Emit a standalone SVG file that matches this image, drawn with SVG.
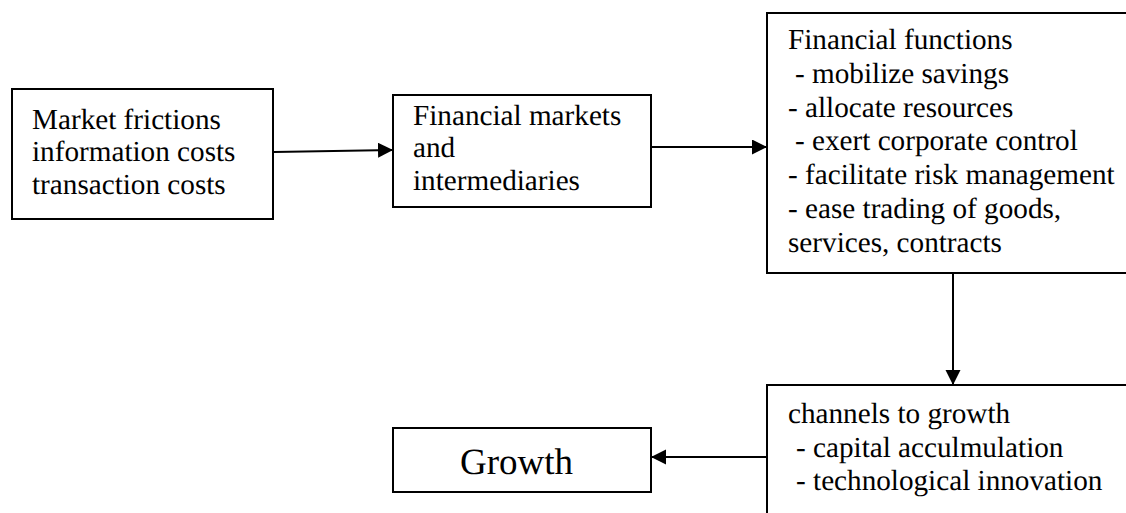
<svg xmlns="http://www.w3.org/2000/svg" width="1126" height="513" viewBox="0 0 1126 513">
<style>
.box{fill:#fff;stroke:#000;stroke-width:2}
.conn{stroke:#000;stroke-width:2;fill:none;marker-end:url(#ah)}
</style>
<defs>
<marker id="ah" markerUnits="userSpaceOnUse" markerWidth="16" markerHeight="16" refX="15" refY="7.5" orient="auto">
<path d="M0,0 L15,7.5 L0,15 z" fill="#000"/>
</marker>
</defs>
<rect width="1126" height="513" fill="#fff"/>
<g font-family="'Liberation Serif', 'Times New Roman', serif" font-size="29.2" fill="#000" text-rendering="geometricPrecision">
<g id="market-frictions">
<rect class="box" x="12" y="89" width="261" height="130"/>
<text x="32" y="128.5">Market frictions</text>
<text x="32" y="161">information costs</text>
<text x="32" y="193.5">transaction costs</text>
</g>
<g id="financial-markets">
<rect class="box" x="393" y="95" width="258" height="112"/>
<text x="413" y="125">Financial markets</text>
<text x="413" y="157">and</text>
<text x="413" y="190">intermediaries</text>
</g>
<g id="financial-functions">
<rect class="box" x="767" y="13" width="380" height="260"/>
<text x="788" y="49.3">Financial functions</text>
<text x="795" y="83">- mobilize savings</text>
<text x="788" y="116.7">- allocate resources</text>
<text x="795" y="150.4">- exert corporate control</text>
<text x="788" y="184.1">- facilitate risk management</text>
<text x="788" y="217.8">- ease trading of goods,</text>
<text x="788" y="251.5">services, contracts</text>
</g>
<g id="channels">
<rect class="box" x="767" y="385" width="380" height="150"/>
<text x="788" y="423.3">channels to growth</text>
<text x="796" y="456.7">- capital acculmulation</text>
<text x="796" y="490">- technological innovation</text>
</g>
<g id="growth">
<rect class="box" x="393" y="428" width="258" height="64"/>
<text x="460" y="474" font-size="37">Growth</text>
</g>
</g>
<g id="connectors">
<line class="conn" x1="274" y1="152" x2="393" y2="150"/>
<line class="conn" x1="652" y1="147" x2="767" y2="147"/>
<line class="conn" x1="953" y1="274" x2="953" y2="385"/>
<line class="conn" x1="766" y1="457" x2="651" y2="457"/>
</g>
</svg>
